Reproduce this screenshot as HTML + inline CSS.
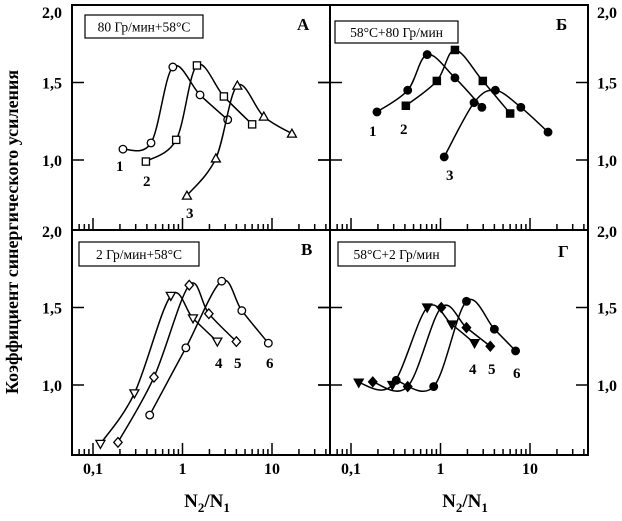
<!DOCTYPE html>
<html><head><meta charset="utf-8"><style>
body{margin:0;background:#fff}
svg{display:block;font-family:"Liberation Serif","DejaVu Serif",serif}
</style></head><body>
<svg id="chart" width="622" height="521" viewBox="0 0 622 521" xmlns="http://www.w3.org/2000/svg">
<text transform="translate(18,232) rotate(-90)" text-anchor="middle" font-size="18" font-weight="bold">Коэффициент синергического усиления</text>
<g id="g"></g>
</svg>
<script>
// Panel A
const aX1=[0.216,0.445,0.78,1.57,3.2], aY1=[1.07,1.11,1.60,1.42,1.26];
const aX2=[0.39,0.85,1.45,2.9,6.0], aY2=[0.99,1.13,1.61,1.41,1.23];
const aX3=[1.12,2.36,4.1,8.1,16.7], aY3=[0.77,1.01,1.48,1.28,1.17];
// Panel B
const bX1=[0.195,0.43,0.71,1.45,2.9], bY1=[1.31,1.45,1.68,1.53,1.34];
const bX2=[0.41,0.91,1.45,2.97,6.0], bY2=[1.35,1.51,1.71,1.51,1.30];
const bX3=[1.1,2.37,4.1,7.9,15.9], bY3=[1.02,1.37,1.45,1.34,1.18];
// Panel V
const vX4=[0.121,0.29,0.74,1.31,2.45], vY4=[0.62,0.946,1.575,1.43,1.28];
const vX5=[0.19,0.48,1.19,1.97,4.0], vY5=[0.63,1.05,1.644,1.46,1.28];
const vX6=[0.43,1.09,2.74,4.6,9.1], vY6=[0.806,1.24,1.67,1.48,1.27];
// Panel G
const gX4=[0.122,0.29,0.71,1.34,2.4], gY4=[1.015,1.0,1.50,1.39,1.27];
const gX5=[0.175,0.43,1.02,1.95,3.6], gY5=[1.02,0.99,1.50,1.37,1.25];
const gX6=[0.32,0.84,1.95,4.0,6.9], gY6=[1.03,0.99,1.54,1.36,1.22];
const xTickLabels=["0,1","1","10"];
const xTickVals=[0.1,1,10];
const yTickVals=[1.0,1.5,2.0];
const yTickLabels=["1,0","1,5","2,0"];

const NS="http://www.w3.org/2000/svg";
const G=document.getElementById('g');
function mk(tag,attrs,parent){const e=document.createElementNS(NS,tag);for(const k in attrs)e.setAttribute(k,attrs[k]);(parent||G).appendChild(e);return e;}
const PW=258,PH=225,L0=72,T0=5;
const panels=[{ox:0,oy:0},{ox:258,oy:0},{ox:0,oy:225},{ox:258,oy:225}];
function xs(p,v){return L0+p.ox+21+89.5*(Math.log10(v)+1);}
function ys(p,v){return T0+p.oy+(2-v)*155;}

// frames
for(let i=0;i<4;i++){const p=panels[i];
 const r=mk('rect',{x:L0+p.ox,y:T0+p.oy,width:PW,height:PH,fill:'none',stroke:'#000','stroke-width':2});
 
 
 // x ticks
 for(let d=-2;d<=1;d++){for(let m=1;m<=9;m++){const v=m*Math.pow(10,d);const x=xs(p,v);
   if(x<L0+p.ox+2||x>L0+p.ox+PW-2)continue;
   const t=mk('line',{x1:x,x2:x,y1:T0+p.oy+PH,y2:T0+p.oy+PH-(m==1?12:6),stroke:'#000','stroke-width':1.5});
   
   }}
 // y ticks
 for(const v of [1.0,1.5]){const y=ys(p,v);
   mk('line',{x1:L0+p.ox-(p.ox?12:0),x2:L0+p.ox+12,y1:y,y2:y,stroke:'#000','stroke-width':1.5});
   mk('line',{x1:L0+p.ox+PW-12,x2:L0+p.ox+PW,y1:y,y2:y,stroke:'#000','stroke-width':1.5});}
}
// y tick labels
for(const oy of [0,225]){for(let i=0;i<yTickVals.length;i++){const v=yTickVals[i];let y=T0+oy+(2-v)*155+6;if(v==2)y=oy==0?18:237;
 const a=mk('text',{x:62,y:y,'text-anchor':'end','font-size':16,'font-weight':'bold'});a.textContent=yTickLabels[i];
 
 
 const b=mk('text',{x:597,y:y,'font-size':16,'font-weight':'bold'});b.textContent=yTickLabels[i];
 
 }}
// x tick labels and titles
for(const ox of [0,258]){const p={ox:ox,oy:0};
 for(let i=0;i<xTickVals.length;i++){const t=mk('text',{x:xs(p,xTickVals[i]),y:474,'text-anchor':'middle','font-size':16,'font-weight':'bold'});t.textContent=xTickLabels[i];
  
  }
 const tt=mk('text',{x:L0+ox+135,y:507,'text-anchor':'middle','font-size':19,'font-weight':'bold'});
 tt.innerHTML='N<tspan font-size="13" dy="5">2</tspan><tspan dy="-5">/N</tspan><tspan font-size="13" dy="5">1</tspan>';
 
 }

function pathFor(pts){let d=`M${pts[0][0]},${pts[0][1]}`;
 for(let i=0;i<pts.length-1;i++){const p0=pts[i-1]||pts[i],p1=pts[i],p2=pts[i+1],p3=pts[i+2]||p2;
  const c1=[p1[0]+(p2[0]-p0[0])/6,p1[1]+(p2[1]-p0[1])/6],c2=[p2[0]-(p3[0]-p1[0])/6,p2[1]-(p3[1]-p1[1])/6];
  d+=` C${c1[0]},${c1[1]} ${c2[0]},${c2[1]} ${p2[0]},${p2[1]}`;}return d;}
function marker(x,y,type,fill){let e;
 if(type=='circle')e=mk('circle',{cx:x,cy:y,r:3.8});
 else if(type=='square')e=mk('rect',{x:x-3.6,y:y-3.6,width:7.2,height:7.2});
 else if(type=='tri')e=mk('polygon',{points:`${x},${y-4.5} ${x+4.5},${y+3.5} ${x-4.5},${y+3.5}`});
 else if(type=='tridown')e=mk('polygon',{points:`${x},${y+4.5} ${x+4.5},${y-3.5} ${x-4.5},${y-3.5}`});
 else e=mk('polygon',{points:`${x},${y-4.8} ${x+4.2},${y} ${x},${y+4.8} ${x-4.2},${y}`});
 e.setAttribute('fill',fill);e.setAttribute('stroke','#000');e.setAttribute('stroke-width',1.3);
 
 }
function series(pi,X,Y,type,fill,name){const p=panels[pi];const pts=X.map((v,i)=>[xs(p,v),ys(p,Y[i])]);
 const l=mk('path',{d:pathFor(pts),fill:'none',stroke:'#000','stroke-width':1.5});
 
 
 pts.forEach(q=>marker(q[0],q[1],type,fill));}
series(0,aX1,aY1,'circle','#fff','series-1-a');
series(0,aX2,aY2,'square','#fff','series-2-a');
series(0,aX3,aY3,'tri','#fff','series-3-a');
series(1,bX1,bY1,'circle','#000','series-1-b');
series(1,bX2,bY2,'square','#000','series-2-b');
series(1,bX3,bY3,'circle','#000','series-3-b');
series(2,vX4,vY4,'tridown','#fff','series-4-v');
series(2,vX5,vY5,'diamond','#fff','series-5-v');
series(2,vX6,vY6,'circle','#fff','series-6-v');
series(3,gX4,gY4,'tridown','#000','series-4-g');
series(3,gX5,gY5,'diamond','#000','series-5-g');
series(3,gX6,gY6,'circle','#000','series-6-g');

function txt(x,y,s,size,name,extra){const t=mk('text',Object.assign({x:x,y:y,'font-size':size,'font-weight':'bold'},extra||{}));t.textContent=s;
 
 return t;}
txt(116,171,'1',15,'label-1');txt(143,186,'2',15,'label-2');txt(186,218,'3',15,'label-3');
txt(369,136,'1',15,'label-1-b');txt(400,134,'2',15,'label-2-b');txt(446,180,'3',15,'label-3-b');
txt(215,368,'4',15,'label-4');txt(234,368,'5',15,'label-5');txt(266,368,'6',15,'label-6');
txt(469,374,'4',15,'label-4-g');txt(488,374,'5',15,'label-5-g');txt(513,378,'6',15,'label-6-g');
txt(297,30,'А',17,'panel-letter-a');txt(556,30,'Б',17,'panel-letter-b');txt(301,255,'В',17,'panel-letter-v');txt(558,257,'Г',17,'panel-letter-g');
const boxes=[[85,15,118,23,'80 Гр/мин+58°С'],[335,21,123,22,'58°С+80 Гр/мин'],[79,242,120,24,'2 Гр/мин+58°С'],[338,242,117,24,'58°С+2 Гр/мин']];
boxes.forEach(b=>{const r=mk('rect',{x:b[0],y:b[1],width:b[2],height:b[3],fill:'#fff',stroke:'#000','stroke-width':1.2});
 
 
 txt(b[0]+b[2]/2,b[1]+b[3]/2+5,b[4],13.5,'condition-label',{'text-anchor':'middle','font-weight':'normal'});});
</script>
</body></html>
